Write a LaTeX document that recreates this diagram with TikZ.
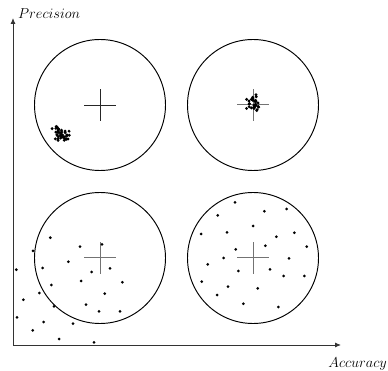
\documentclass[tikz,border=0pt]{standalone}
\usetikzlibrary{arrows.meta,calc}
\begin{document}
\begin{tikzpicture}[x=1pt,y=-1pt,
  target/.style={draw=black,line width=0.95pt,circle,minimum size=131pt,inner sep=0pt},
  axis/.style={draw=black!80,line width=0.9pt,-{Latex[length=6pt,width=5pt]}},
  crossline/.style={draw=black!55,line width=1pt},
  dotf/.style={fill=black},
  lbl/.style={font=\fontsize{13.5}{15}\selectfont,inner sep=0pt}]
\useasboundingbox (0,0) rectangle (388,371);
% axes
\coordinate (o) at (13,345);
\coordinate (ytip) at (13,18);
\coordinate (xtip) at (341,345);
\draw[axis] (o) -- (ytip);
\draw[axis] (o) -- (xtip);
\node[lbl,anchor=base west] (py) at (18,19) {$Precision$};
\node[lbl,anchor=base east] (px) at (387,367) {$Accuracy$};
% targets
\node[target] (t1) at (100,105) {};
\node[target] (t2) at (253,105) {};
\node[target] (t3) at (100,258) {};
\node[target] (t4) at (253,258) {};
% crosses
\draw[crossline,draw=black!85,line width=0.8pt] ([xshift=-16pt]t1.center) -- ([xshift=16pt]t1.center) ([yshift=-16pt]t1.center) -- ([yshift=16pt]t1.center);
\foreach \t in {t2,t3,t4}{
  \draw[crossline] ([xshift=-16pt]\t.center) -- ([xshift=16pt]\t.center) ([yshift=-16pt]\t.center) -- ([yshift=16pt]\t.center);
}
% clusters
\pgfmathsetseed{7}
\foreach \i in {1,...,42}{
  \pgfmathsetmacro{\dx}{5.5*(rand+rand+rand)/1.5}
  \pgfmathsetmacro{\dy}{5.5*(rand+rand+rand)/1.5}
  \fill[dotf] ($(61,133)+(\dx+0.35*\dy,\dy)$) circle (1.6pt);
}
\pgfmathsetseed{11}
\foreach \i in {1,...,32}{
  \pgfmathsetmacro{\dx}{5*(rand+rand+rand)/1.5}
  \pgfmathsetmacro{\dy}{6.5*(rand+rand+rand)/1.5}
  \fill[dotf] ($(252,103)+(\dx,\dy)$) circle (1.6pt);
}
% scattered bottom-left
\foreach \p in {(50.3,237.7),(33,251),(80,246.7),(102,244.3),(68.3,261.7),(16.3,269.7),(42.7,268),(91.7,272),(110,268.3),(81,281),(122.3,282.3),(51.3,285),(39.3,293),(104.7,293.7),(23.3,299.7),(54,306.3),(86,304.7),(99,311.3),(120,311.3),(17,317.3),(43.7,322),(73,323.7),(32.7,330.3),(59,339),(94,342.3)}
  \fill[dotf] \p circle (1.5pt);
% scattered bottom-right
\foreach \p in {(235,202.3),(217.7,215.3),(264.3,211.3),(286.7,209),(253,226),(201,234),(227,232.3),(276.3,236.7),(294.3,232.7),(235.7,249.3),(265.3,245.7),(306.7,246.7),(223.7,258),(289,258.3),(207.7,264.3),(238.3,271),(270,269.3),(283.7,276),(304.3,276),(201.7,281.7),(228,286.7),(257.7,288.3),(217,295),(243.3,303.7),(278.3,307)}
  \fill[dotf] \p circle (1.5pt);
\end{tikzpicture}
\end{document}
